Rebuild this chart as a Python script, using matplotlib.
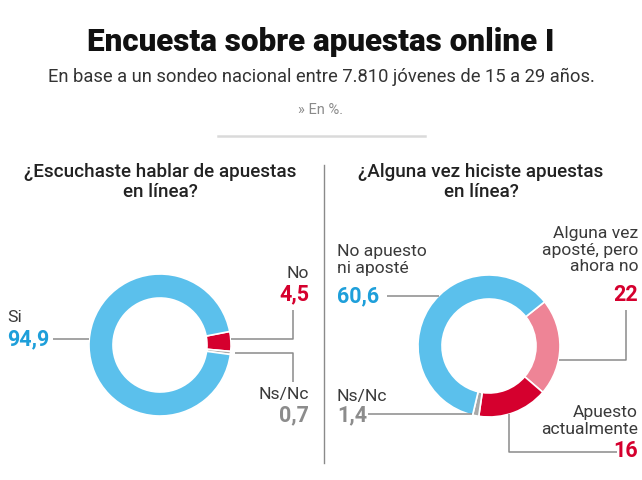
import matplotlib
matplotlib.use('Agg')
import matplotlib.pyplot as plt
import numpy as np

W, H = 642, 480

title = "Encuesta sobre apuestas online I"
subtitle = "En base a un sondeo nacional entre 7.810 jóvenes de 15 a 29 años."
unit_note = "» En %."

q1_title = "¿Escuchaste hablar de apuestas\nen línea?"
q1_labels = ["No", "Ns/Nc", "Si"]
q1_values = [4.5, 0.7, 94.9]
q1_value_text = ["4,5", "0,7", "94,9"]

q2_title = "¿Alguna vez hiciste apuestas\nen línea?"
q2_labels = ["Alguna vez\naposté, pero\nahora no", "Apuesto\nactualmente", "Ns/Nc", "No apuesto\nni aposté"]
q2_values = [22, 16, 1.4, 60.6]
q2_value_text = ["22", "16", "1,4", "60,6"]

BLUE = "#5BC0EC"
BLUE_T = "#1E9FDA"
RED = "#D5002E"
PINK = "#EE8496"
GRAY = "#A8A8A8"
GRAY_T = "#8C8C8C"
LINE = "#8A8A8A"

FONT = "Roboto"

fig = plt.figure(figsize=(W / 100, H / 100), dpi=100)
ax = fig.add_axes([0, 0, 1, 1])


def Y(y):
    return H - y


R_OUT, R_W = 71, 24
c1 = (160, Y(345))
c2 = (489, Y(346))

ax.pie(q1_values, colors=[RED, GRAY, BLUE], startangle=11, counterclock=False,
       radius=R_OUT, center=c1, normalize=True,
       wedgeprops=dict(width=R_W, edgecolor="white", linewidth=1.2))
ax.pie(q2_values, colors=[PINK, RED, GRAY, BLUE], startangle=38.5, counterclock=False,
       radius=R_OUT, center=c2, normalize=True,
       wedgeprops=dict(width=R_W, edgecolor="white", linewidth=1.2))

ax.set_xlim(0, W)
ax.set_ylim(0, H)
ax.set_aspect("equal")
ax.axis("off")


def circle_x(c, r, y, side):
    dy = Y(y) - c[1]
    return c[0] + side * np.sqrt(max(r * r - dy * dy, 0))


def circle_y(c, r, x, side):
    dx = x - c[0]
    return H - (c[1] + side * np.sqrt(max(r * r - dx * dx, 0)))


def path(points):
    xs = [p[0] for p in points]
    ys = [Y(p[1]) for p in points]
    ax.plot(xs, ys, color=LINE, lw=1.1, solid_capstyle="butt")


# Titles
ax.text(W / 2, Y(42), title, ha="center", va="center", fontsize=22.6,
        fontweight="black", family=FONT, color="#111111")
ax.text(W / 2, Y(77), subtitle, ha="center", va="center", fontsize=13.2,
        family=FONT, color="#333333")
ax.text(W / 2, Y(110), unit_note, ha="center", va="center", fontsize=10.5,
        family=FONT, color="#8A8A8A")
ax.plot([218, 425], [Y(136), Y(136)], color="#DADADA", lw=1.8)

# Divider
ax.plot([324, 324], [Y(165), Y(463)], color="#8A8A8A", lw=1.0)

# Question headers
ax.text(160, Y(182), q1_title, ha="center", va="center", fontsize=13.6,
        fontweight="medium", family=FONT, color="#222222", linespacing=1.12)
ax.text(481, Y(182), q2_title, ha="center", va="center", fontsize=13.6,
        fontweight="medium", family=FONT, color="#222222", linespacing=1.12)

LBL = dict(fontsize=12.6, family=FONT, color="#3A3A3A", va="center", linespacing=1.12)
NUM = dict(fontsize=15.5, family=FONT, fontweight="bold", va="center")

# Left donut labels
ax.text(309, Y(274), q1_labels[0], ha="right", **LBL)
ax.text(309, Y(294), q1_value_text[0], ha="right", color=RED, **NUM)
path([(circle_x(c1, R_OUT, 339, 1), 339), (293, 339), (293, 310)])

ax.text(309, Y(395), q1_labels[1], ha="right", **LBL)
ax.text(309, Y(415), q1_value_text[1], ha="right", color=GRAY_T, **NUM)
path([(circle_x(c1, R_OUT + 4, 353, 1), 353), (293, 353), (293, 382)])

ax.text(7, Y(318), q1_labels[2], ha="left", **LBL)
ax.text(7, Y(339), q1_value_text[2], ha="left", color=BLUE_T, **NUM)
path([(53, 339), (circle_x(c1, R_OUT, 339, -1), 339)])

# Right donut labels
ax.text(638, Y(250), q2_labels[0], ha="right", **LBL)
ax.text(638, Y(295), q2_value_text[0], ha="right", color=RED, **NUM)
path([(circle_x(c2, R_OUT, 360, 1), 360), (626, 360), (626, 310)])

ax.text(638, Y(421), q2_labels[1], ha="right", **LBL)
ax.text(638, Y(451), q2_value_text[1], ha="right", color=RED, **NUM)
path([(509, circle_y(c2, R_OUT, 509, -1)), (509, 452), (617, 452)])

ax.text(337, Y(397), q2_labels[2], ha="left", **LBL)
ax.text(337, Y(415), q2_value_text[2], ha="left", color=GRAY_T, **NUM)
path([(368, 414), (circle_x(c2, R_OUT, 414, -1) + 3, 414)])

ax.text(337, Y(260), q2_labels[3], ha="left", **LBL)
ax.text(337, Y(296), q2_value_text[3], ha="left", color=BLUE_T, **NUM)
path([(387, 296), (circle_x(c2, R_OUT, 296, -1), 296)])

fig.savefig("out.png", dpi=100, facecolor="white")
